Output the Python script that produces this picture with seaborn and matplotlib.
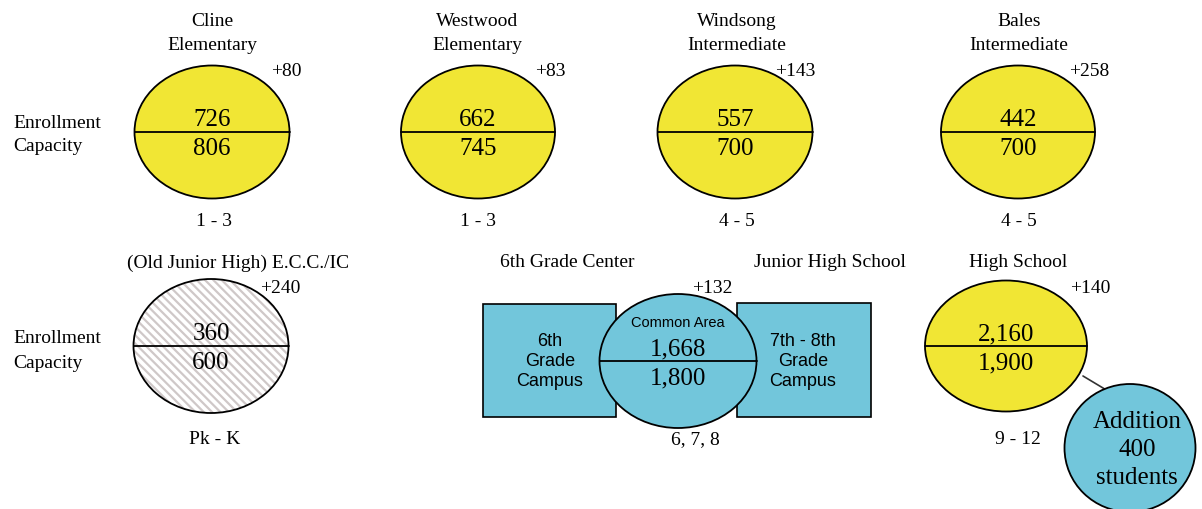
import matplotlib
matplotlib.use('Agg')
import matplotlib.pyplot as plt
from matplotlib.patches import Ellipse, Rectangle
import seaborn as sns

sns.set_theme(style='white')
plt.rcParams['font.family'] = ['Liberation Serif', 'DejaVu Serif']
plt.rcParams['text.color'] = 'black'
plt.rcParams['hatch.linewidth'] = 1.6

# data
titles = ['Cline\nElementary', 'Westwood\nElementary', 'Windsong\nIntermediate',
          'Bales\nIntermediate', '(Old Junior High) E.C.C./IC', '', 'High School']
enrollment = [726, 662, 557, 442, 360, 1668, 2160]
capacity = [806, 745, 700, 700, 600, 1800, 1900]
room_left = [80, 83, 143, 258, 240, 132, 140]
grades = ['1 - 3', '1 - 3', '4 - 5', '4 - 5', 'Pk - K', '6, 7, 8', '9 - 12']
campus_labels = ['6th\nGrade\nCampus', '7th - 8th\nGrade\nCampus']
campus_titles = ['6th Grade Center', 'Junior High School']
addition_students = 400

# layout in pixel coords (x right, y down)
centers = [(212, 133), (478, 133), (735, 133), (1018, 133), (211, 347), (678, 362), (1006, 347)]
sizes = [(155, 133), (154, 133), (155, 133), (154, 133), (155, 134), (157, 134), (162, 131)]
title_xy = [(212, 22), (477, 22), (737, 22), (1019, 22), (238, 263), (678, 263), (1018, 263)]
diff_xy = [(286, 71), (550, 72), (795, 71), (1089, 71), (280, 289), (712, 289), (1090, 289)]
grade_xy = [(214, 222), (478, 222), (737, 222), (1019, 222), (215, 440), (695, 440), (1018, 440)]
styles = ['yellow', 'yellow', 'yellow', 'yellow', 'hatch', 'blue', 'yellow']

YELLOW = '#F1E634'
BLUE = '#72C6DB'
SANS = ['Liberation Sans', 'DejaVu Sans']

fig = plt.figure(figsize=(12.02, 5.10), dpi=100)
ax = fig.add_axes([0, 0, 1, 1])
ax.set_xlim(0, 1202)
ax.set_ylim(510, 0)
ax.axis('off')

# row labels
for y0 in (123, 147), (339, 364):
    ax.text(13, y0[0], 'Enrollment', fontsize=14, ha='left', va='center')
    ax.text(13, y0[1], 'Capacity', fontsize=14, ha='left', va='center')

# campus boxes of the 6th / junior high building
rects = [(483, 305, 133, 113), (737, 304, 134, 114)]
for (rx, ry, rw, rh), lab, tx in zip(rects, campus_labels, [550, 803]):
    ax.add_patch(Rectangle((rx, ry), rw, rh, facecolor=BLUE, edgecolor='black', lw=1.2, zorder=1))
    for k, line in enumerate(lab.split('\n')):
        ax.text(tx, 342 + 20 * k, line, fontsize=13, family=SANS,
                ha='center', va='center', zorder=5)
for t, tx in zip(campus_titles, [567, 830]):
    ax.text(tx, 263, t, fontsize=14, ha='center', va='center')

# connector to the addition
ax.plot([1083, 1108], [377, 392], color='#333333', lw=1.2, zorder=0)

for i in range(len(enrollment)):
    cx, cy = centers[i]
    w, h = sizes[i]
    if styles[i] == 'hatch':
        ax.add_patch(Ellipse((cx, cy), w, h, facecolor='white', edgecolor='#cfc8c8',
                             hatch=r'\\\\', lw=0, zorder=2))
        ax.add_patch(Ellipse((cx, cy), w, h, fill=False, edgecolor='black', lw=1.3, zorder=3))
    else:
        fc = BLUE if styles[i] == 'blue' else YELLOW
        ax.add_patch(Ellipse((cx, cy), w, h, facecolor=fc, edgecolor='black', lw=1.3, zorder=2))
    ax.plot([cx - w / 2, cx + w / 2], [cy, cy], color='black', lw=1.3, zorder=4)
    ax.text(cx, cy - 13, f'{enrollment[i]:,}', fontsize=18, ha='center', va='center', zorder=5)
    ax.text(cx, cy + 16, f'{capacity[i]:,}', fontsize=18, ha='center', va='center', zorder=5)
    if titles[i]:
        tx, ty = title_xy[i]
        for k, line in enumerate(titles[i].split('\n')):
            ax.text(tx, ty + 23 * k, line, fontsize=14, ha='center', va='center')
    ax.text(diff_xy[i][0], diff_xy[i][1], f'+{room_left[i]}', fontsize=14, ha='center', va='center')
    ax.text(grade_xy[i][0], grade_xy[i][1], grades[i], fontsize=14, ha='center', va='center')

ax.text(678, 323, 'Common Area', fontsize=10.5, family=SANS,
        ha='center', va='center', zorder=5)

# addition bubble
ax.add_patch(Ellipse((1130, 449), 131, 128, facecolor=BLUE, edgecolor='black', lw=1.3, zorder=2))
for k, line in enumerate(['Addition', f'{addition_students}', 'students']):
    ax.text(1137, 422 + 28 * k, line, fontsize=18, ha='center', va='center', zorder=5)

fig.savefig('out.png', dpi=100, facecolor='white')
